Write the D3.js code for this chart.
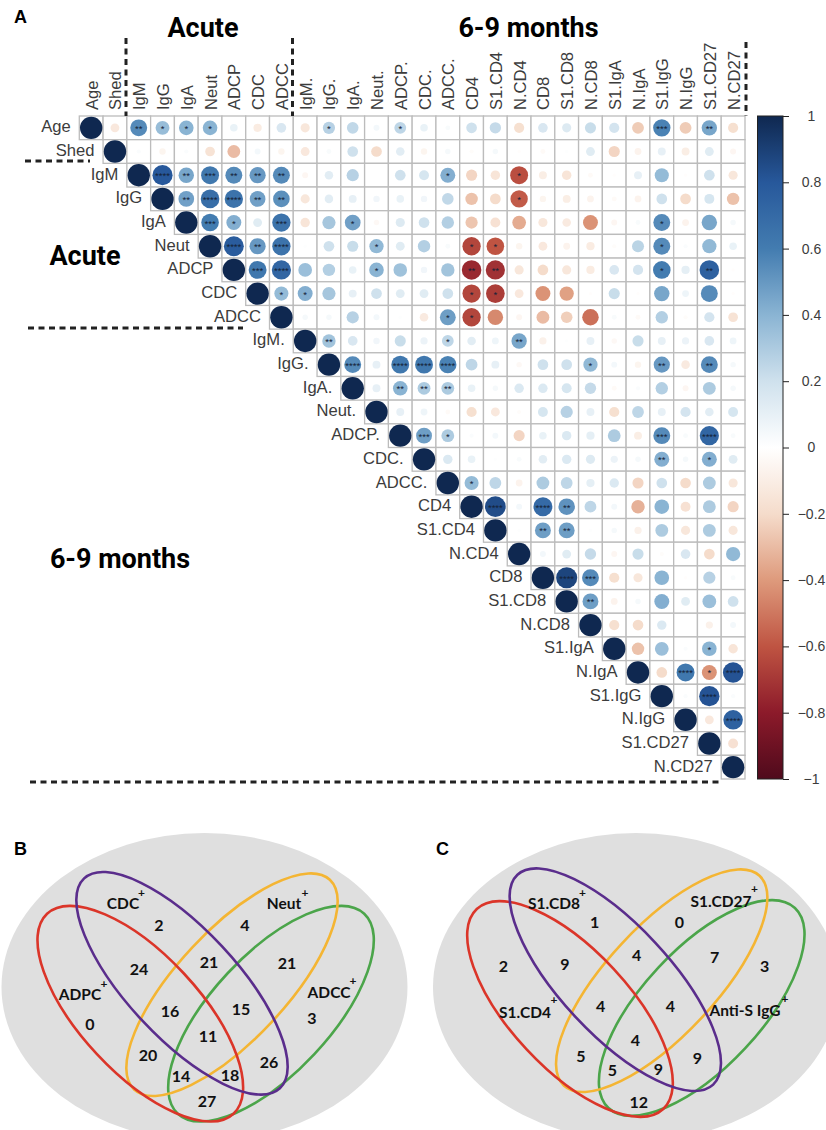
<!DOCTYPE html>
<html>
<head>
<meta charset="utf-8">
<script src="https://cdn.jsdelivr.net/npm/d3@7"></script>
<style>
  html, body { margin: 0; padding: 0; background: #fff; overflow: hidden; }
  svg { display: block; }
  .hel { font-family: "Liberation Sans", sans-serif; fill: #3c3c3c; }
  .venn text { font-family: Lato, sans-serif; font-weight: 700; fill: #111; }
</style>
</head>
<body>
<div id="chart"></div>
<script>
// variables of the correlation matrix
const variables = ["Age", "Shed", "IgM", "IgG", "IgA", "Neut", "ADCP", "CDC", "ADCC",
  "IgM.", "IgG.", "IgA.", "Neut.", "ADCP.", "CDC.", "ADCC.", "CD4", "S1.CD4", "N.CD4",
  "CD8", "S1.CD8", "N.CD8", "S1.IgA", "N.IgA", "S1.IgG", "N.IgG", "S1.CD27", "N.CD27"];

// upper triangle, each row starts just right of the diagonal
const corrRows = [
  [-.13, .55, .36, .4, .4, .09, -.11, .16, -.14, .27, .24, .05, .25, .09, .03, .2, .23, -.18, .16, .14, .22, .18, -.25, .58, -.25, .45, -.18],
  [.02, -.06, .02, -.16, -.3, .05, -.06, -.13, .03, .2, -.2, .12, -.06, .04, -.02, .04, -.01, -.03, .01, .13, -.22, -.07, .1, -.1, .13, -.05],
  [.8, .45, .62, .55, .5, .55, -.05, .12, .27, 0, .2, .17, .42, -.22, -.15, -.62, -.1, -.15, -.03, -.01, .1, .37, -.01, .2, -.14],
  [.47, .68, .65, .47, .53, -.14, .12, .1, .06, .09, .06, .24, -.28, -.2, -.58, -.06, -.1, -.07, -.03, -.07, .2, -.2, .17, -.28],
  [.6, .42, .13, .65, -.15, .32, .47, -.04, .14, .2, .28, -.27, -.17, -.35, -.14, -.12, -.42, -.05, .03, .55, -.07, .45, .04],
  [.78, .5, .65, .01, .2, .22, .38, .13, .28, .03, -.65, -.6, -.06, -.13, -.07, -.11, -.02, .26, .55, .02, .38, .09],
  [.62, .72, .35, .28, .09, .4, .34, .06, .33, -.75, -.72, -.14, -.2, -.14, -.11, .16, .18, .6, .11, .75, -.01],
  [.37, .42, .32, .1, .2, .13, .13, .2, -.65, -.68, -.13, -.42, -.38, -.01, .22, -.01, .45, .07, .55, -.01],
  [.04, .04, .27, .05, .01, -.12, .48, -.65, -.45, -.05, -.3, -.24, -.52, .03, -.03, .28, -.02, .18, -.16],
  [.33, .16, .06, .22, .08, .25, .12, .07, .45, -.08, .01, .1, -.04, .22, .1, .08, .16, .07],
  [.55, .1, .62, .62, .58, .25, .1, -.04, .2, .2, .38, .05, -.06, .5, -.12, .55, .04],
  [.1, .4, .3, .3, .09, .04, .15, .15, .17, .23, -.03, .02, .28, -.05, .3, .04],
  [.1, .07, -.03, -.18, -.13, -.02, .17, .27, .1, -.18, .25, .1, .18, .12, .17],
  [.48, .3, .02, .05, -.22, .09, .15, .11, .3, -.1, .55, .03, .72, .03],
  [.15, .09, .01, .03, .12, .15, .14, .08, .04, .42, .04, .42, .13],
  [.37, .25, -.07, .3, .25, .11, .15, -.22, .2, -.2, .3, -.14],
  [.85, .05, .7, .52, .25, .05, -.33, .4, -.17, .3, -.22],
  [.01, .48, .48, .01, .04, -.08, .3, -.14, .3, -.14],
  [.05, .13, .23, -.05, .22, -.02, .16, -.2, .38],
  [.88, .55, -.18, -.14, .4, -.01, .27, .03],
  [.48, -.07, .04, .42, .13, .35, .2],
  [-.18, -.2, .15, 0, -.08, .05],
  [-.28, .35, .02, .4, -.15],
  [-.2, .62, -.42, .82],
  [.02, .82, .02],
  [-.13, .75],
  [-.17],
  []
];

// significant cells: row name, column name, number of stars
const sigCells = [
  ["Age", "IgM", 2], ["Age", "IgG", 1], ["Age", "IgA", 1], ["Age", "Neut", 1], ["Age", "IgG.", 1], ["Age", "ADCP.", 1], ["Age", "S1.IgG", 3], ["Age", "S1.CD27", 2],
  ["IgM", "IgG", 4], ["IgM", "IgA", 2], ["IgM", "Neut", 3], ["IgM", "ADCP", 2], ["IgM", "CDC", 2], ["IgM", "ADCC", 2], ["IgM", "ADCC.", 1], ["IgM", "N.CD4", 1],
  ["IgG", "IgA", 2], ["IgG", "Neut", 4], ["IgG", "ADCP", 4], ["IgG", "CDC", 2], ["IgG", "ADCC", 2], ["IgG", "N.CD4", 1],
  ["IgA", "Neut", 3], ["IgA", "ADCP", 1], ["IgA", "ADCC", 3], ["IgA", "IgA.", 1], ["IgA", "S1.IgG", 1],
  ["Neut", "ADCP", 4], ["Neut", "CDC", 2], ["Neut", "ADCC", 4], ["Neut", "Neut.", 1], ["Neut", "CD4", 1], ["Neut", "S1.CD4", 1], ["Neut", "S1.IgG", 1],
  ["ADCP", "CDC", 3], ["ADCP", "ADCC", 4], ["ADCP", "Neut.", 1], ["ADCP", "CD4", 2], ["ADCP", "S1.CD4", 2], ["ADCP", "S1.IgG", 1], ["ADCP", "S1.CD27", 2],
  ["CDC", "ADCC", 1], ["CDC", "IgM.", 1], ["CDC", "CD4", 1], ["CDC", "S1.CD4", 1],
  ["ADCC", "ADCC.", 1], ["ADCC", "CD4", 1],
  ["IgM.", "IgG.", 2], ["IgM.", "ADCC.", 1], ["IgM.", "N.CD4", 2],
  ["IgG.", "IgA.", 4], ["IgG.", "ADCP.", 4], ["IgG.", "CDC.", 4], ["IgG.", "ADCC.", 4], ["IgG.", "N.CD8", 1], ["IgG.", "S1.IgG", 2], ["IgG.", "S1.CD27", 2],
  ["IgA.", "ADCP.", 2], ["IgA.", "CDC.", 2], ["IgA.", "ADCC.", 2],
  ["ADCP.", "CDC.", 3], ["ADCP.", "ADCC.", 1], ["ADCP.", "S1.IgG", 3], ["ADCP.", "S1.CD27", 4],
  ["CDC.", "S1.IgG", 2], ["CDC.", "S1.CD27", 1],
  ["ADCC.", "CD4", 1],
  ["CD4", "S1.CD4", 4], ["CD4", "CD8", 4], ["CD4", "S1.CD8", 2],
  ["S1.CD4", "CD8", 2], ["S1.CD4", "S1.CD8", 2],
  ["CD8", "S1.CD8", 4], ["CD8", "N.CD8", 3],
  ["S1.CD8", "N.CD8", 2],
  ["S1.IgA", "S1.CD27", 1],
  ["N.IgA", "N.IgG", 4], ["N.IgA", "S1.CD27", 1], ["N.IgA", "N.CD27", 4],
  ["S1.IgG", "S1.CD27", 4],
  ["N.IgG", "N.CD27", 4]
];

const colorTicks = [1, 0.8, 0.6, 0.4, 0.2, 0, -0.2, -0.4, -0.6, -0.8, -1];
const colorStops = ["#0f2850", "#27589b", "#437cb0", "#8ab4d3", "#cfe1ed", "#ffffff", "#f5dccb", "#de9a7c", "#bf5442", "#8c1a2a", "#4f0a1c"];

// venn regions, same order in both panels
const vennB = { values: [2, 4, 24, 21, 21, 0, 16, 15, 3, 11, 20, 26, 14, 18, 27], sets: ["CDC", "Neut", "ADPC", "ADCC"] };
const vennC = { values: [1, 0, 9, 4, 7, 2, 4, 4, 3, 4, 5, 9, 5, 9, 12], sets: ["S1.CD8", "S1.CD27", "S1.CD4", "Anti-S IgG"] };

const width = 826, height = 1130;
const svg = d3.select("#chart").append("svg").attr("width", width).attr("height", height);

// ---- panel A ----
const x = d3.scaleBand().domain(variables).range([79.3, 745]);
const y = d3.scaleBand().domain(variables).range([116, 779]);
const bw = x.bandwidth(), bh = y.bandwidth();
const color = d3.scaleLinear().domain(colorTicks).range(colorStops);
const radius = d3.scaleSqrt().domain([0, 1]).range([0.6, 11.2]);

const cells = [];
variables.forEach((rowName, i) => {
  cells.push({ row: rowName, col: rowName, r: 1 });
  corrRows[i].forEach((v, k) => cells.push({ row: rowName, col: variables[i + k + 1], r: v }));
});

const matrix = svg.append("g");

matrix.selectAll("rect.cell").data(cells).enter().append("rect")
  .attr("class", "cell")
  .attr("x", d => x(d.col))
  .attr("y", d => y(d.row))
  .attr("width", bw)
  .attr("height", bh)
  .attr("fill", "#fff")
  .attr("stroke", "#bcbcbc")
  .attr("stroke-width", 1.3);

matrix.selectAll("circle").data(cells).enter().append("circle")
  .attr("cx", d => x(d.col) + bw / 2)
  .attr("cy", d => y(d.row) + bh / 2)
  .attr("r", d => radius(Math.abs(d.r)))
  .attr("fill", d => color(d.r));

matrix.selectAll("text.star").data(sigCells).enter().append("text")
  .attr("class", "star")
  .attr("x", d => x(d[1]) + bw / 2)
  .attr("y", d => y(d[0]) + bh / 2 + 4)
  .attr("text-anchor", "middle")
  .style("font-family", "Liberation Sans")
  .style("font-size", "9.5px")
  .style("fill", "#142238")
  .text(d => "*".repeat(d[2]));

// column labels on top, row labels sit left of the diagonal
matrix.selectAll("text.collab").data(variables).enter().append("text")
  .attr("class", "collab hel")
  .attr("transform", d => `translate(${x(d) + bw / 2 + 6.5},110) rotate(-90)`)
  .style("font-size", "16.6px")
  .text(d => d);

matrix.selectAll("text.rowlab").data(variables).enter().append("text")
  .attr("class", "rowlab hel")
  .attr("x", d => x(d) - 8.5)
  .attr("y", d => y(d) + bh / 2 + 4.5)
  .attr("text-anchor", "end")
  .style("font-size", "16.6px")
  .text(d => d);

// colour bar
const barY = d3.scaleLinear().domain([1, -1]).range([116, 779]);
const defs = svg.append("defs");
const grad = defs.append("linearGradient").attr("id", "corrGrad").attr("x1", 0).attr("x2", 0).attr("y1", 0).attr("y2", 1);
colorTicks.forEach((t, i) => grad.append("stop").attr("offset", (1 - t) / 2).attr("stop-color", colorStops[i]));

svg.append("rect")
  .attr("x", 757.5).attr("y", 116).attr("width", 25.5).attr("height", 663)
  .attr("fill", "url(#corrGrad)")
  .attr("stroke", "#222").attr("stroke-width", 1);

const barAxis = svg.append("g")
  .attr("transform", "translate(783,0)")
  .call(d3.axisRight(barY).tickValues(colorTicks).tickSize(6).tickFormat(d => String(d).replace("-", "\u2212")));
barAxis.select(".domain").remove();
barAxis.selectAll("line").attr("stroke", "#222").attr("stroke-width", 1);
barAxis.selectAll("text")
  .attr("class", "hel")
  .attr("x", 28.5)
  .attr("text-anchor", "middle")
  .style("font-size", "14px");

// dashed separators between the time points
const dashLines = [
  [126, 38, 126, 116], [292.5, 38, 292.5, 116], [746, 42, 746, 116],
  [25, 161, 90, 161], [28, 328, 243, 328], [30, 782, 723, 782]
];
svg.selectAll("line.sep").data(dashLines).enter().append("line")
  .attr("class", "sep")
  .attr("x1", d => d[0]).attr("y1", d => d[1]).attr("x2", d => d[2]).attr("y2", d => d[3])
  .attr("stroke", "#222")
  .attr("stroke-width", 3)
  .attr("stroke-dasharray", "6,4.5");

const headings = [["Acute", 203, 37], ["6-9 months", 528.5, 37], ["Acute", 85, 265], ["6-9 months", 120, 568]];
svg.selectAll("text.heading").data(headings).enter().append("text")
  .attr("class", "heading")
  .attr("x", d => d[1]).attr("y", d => d[2])
  .attr("text-anchor", "middle")
  .style("font-family", "Roboto")
  .style("font-weight", 700)
  .style("font-size", "27px")
  .style("fill", "#000")
  .text(d => d[0]);

const panelLetters = [["A", 14, 23], ["B", 14, 855], ["C", 436, 855]];
svg.selectAll("text.letter").data(panelLetters).enter().append("text")
  .attr("class", "letter")
  .attr("x", d => d[1]).attr("y", d => d[2])
  .style("font-family", "Liberation Sans")
  .style("font-weight", 700)
  .style("font-size", "18px")
  .text(d => d[0]);

// ---- panels B and C ----
const vennColors = ["#4ba54a", "#f4b533", "#db3529", "#5a2d8c"];

// ellipse centres in draw order green, yellow, red, purple
const layoutB = {
  bg: [204.5, 987],
  ellipses: [[271, 1013.7, -47], [232, 984.7, -47], [140.3, 1013.7, 47], [182, 983.3, 47]],
  setPos: [[123, 903.5], [284, 903.5], [80, 994], [329, 992]],
  plusPos: [[141.5, 897], [305, 897], [104, 988], [353, 985]],
  regionPos: [[159, 925], [245, 925], [139, 969], [209, 962], [287, 963], [90, 1024], [170, 1011], [241, 1009], [312, 1018], [208, 1036], [148, 1055], [269, 1062], [181, 1076], [230, 1075], [207, 1101]]
};
const layoutC = {
  bg: [636, 987],
  ellipses: [[701.7, 1008, -47], [661.7, 980.7, -47], [570, 1009, 47], [615.3, 979.7, 47]],
  setPos: [[554, 903], [721, 901], [525, 1012], [745, 1010]],
  plusPos: [[582.5, 897], [754.5, 893], [554, 1004], [785, 1003]],
  regionPos: [[594.7, 922], [679.3, 922], [565, 964], [636.7, 955], [714.7, 957], [503.3, 966], [600.7, 1006], [670.3, 1006], [764.7, 966], [635.3, 1040], [581, 1056], [697.3, 1058], [612.3, 1070], [658.3, 1069], [638.7, 1102]]
};

function drawVenn(venn, layout) {
  const g = svg.append("g").attr("class", "venn");
  g.append("ellipse")
    .attr("cx", layout.bg[0]).attr("cy", layout.bg[1])
    .attr("rx", 203).attr("ry", 154)
    .attr("fill", "#dfdfdf");

  g.selectAll("ellipse.set").data(layout.ellipses).enter().append("ellipse")
    .attr("class", "set")
    .attr("rx", (d, i) => i === 0 || i === 2 ? 136.7 : 143.5)
    .attr("ry", (d, i) => i === 0 || i === 2 ? 59.3 : 54.5)
    .attr("transform", d => `translate(${d[0]},${d[1]}) rotate(${d[2]})`)
    .attr("fill", "none")
    .attr("stroke", (d, i) => vennColors[i])
    .attr("stroke-width", 2.6);

  g.selectAll("text.region").data(venn.values).enter().append("text")
    .attr("class", "region")
    .attr("x", (d, i) => layout.regionPos[i][0])
    .attr("y", (d, i) => layout.regionPos[i][1] + 5.5)
    .attr("text-anchor", "middle")
    .style("font-size", "16px")
    .text(d => d);

  g.selectAll("text.setname").data(venn.sets).enter().append("text")
    .attr("class", "setname")
    .attr("x", (d, i) => layout.setPos[i][0])
    .attr("y", (d, i) => layout.setPos[i][1] + 5.5)
    .attr("text-anchor", "middle")
    .style("font-size", "15.5px")
    .text(d => d);

  g.selectAll("text.plus").data(venn.sets).enter().append("text")
    .attr("class", "plus")
    .attr("x", (d, i) => layout.plusPos[i][0])
    .attr("y", (d, i) => layout.plusPos[i][1])
    .attr("text-anchor", "middle")
    .style("font-size", "12px")
    .text("+");
}

drawVenn(vennB, layoutB);
drawVenn(vennC, layoutC);
</script>
</body>
</html>
